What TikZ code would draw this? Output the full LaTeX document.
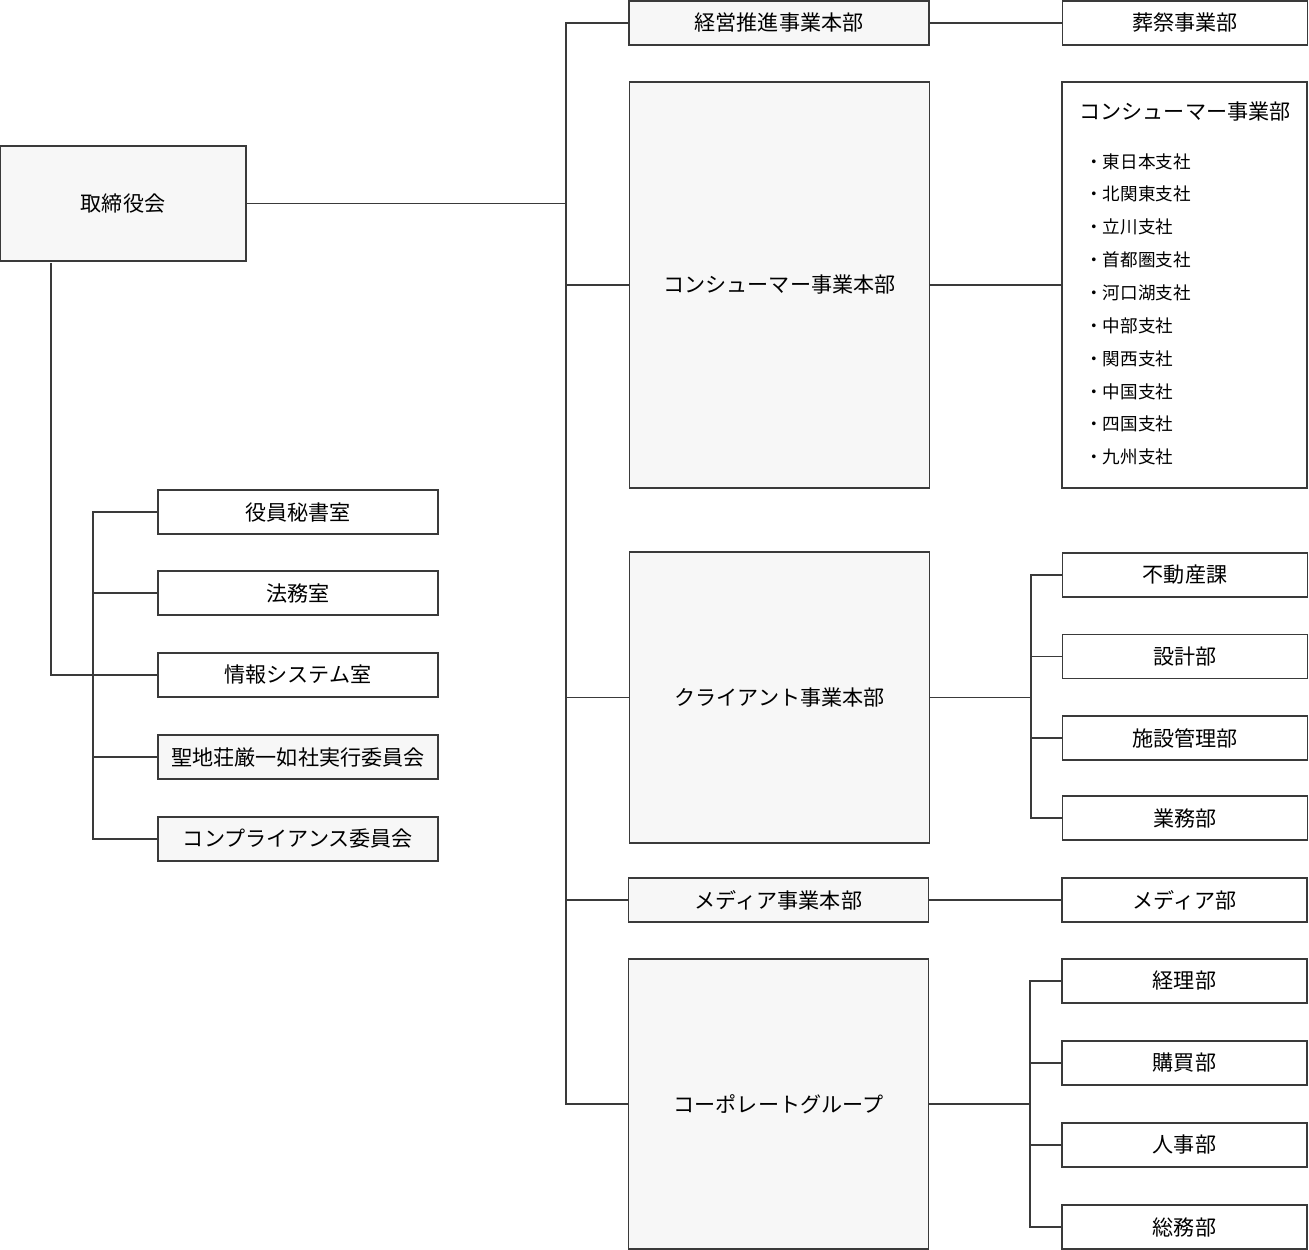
\documentclass[tikz,border=0pt]{standalone}
\usepackage{fontspec}
\newfontfamily\jp{Noto Sans CJK JP}
\usetikzlibrary{positioning}
\definecolor{boxgray}{HTML}{F7F7F7}
\definecolor{linegray}{HTML}{3A3A3A}

\begin{document}
\begin{tikzpicture}[x=0.02cm, y=-0.02cm,
  unit/.style={draw=linegray, line width=.9pt, inner sep=0, font=\jp\fontsize{12}{14}\selectfont},
  hq/.style={unit, fill=boxgray, minimum width=6cm, minimum height=.88cm},
  bighq/.style={unit, fill=boxgray, minimum width=6cm},
  dept/.style={unit, fill=white, minimum width=4.9cm, minimum height=.88cm},
  office/.style={unit, fill=white, minimum width=5.6cm, minimum height=.88cm},
  link/.style={draw=linegray, line width=.9pt}]
\useasboundingbox (0,0) rectangle (1309,1250);
% board
\node[unit, fill=boxgray, minimum width=4.92cm, minimum height=2.3cm] (board) at (123,203.5) {取締役会};
% headquarters column
\node[hq] (keiei) at (779,23) {経営推進事業本部};
\node[bighq, minimum height=8.12cm] (conshq) at (779.5,285) {コンシューマー事業本部};
\node[bighq, minimum height=5.82cm] (client) at (779.5,697.5) {クライアント事業本部};
\node[hq] (mediahq) at (778.5,900) {メディア事業本部};
\node[bighq, minimum height=5.8cm] (corp) at (778.5,1104) {コーポレートグループ};
% departments
\node[dept] (sousai) at (1185,23) {葬祭事業部};
\node[dept, minimum height=8.12cm] (consdept) at (1184.5,285) {};
\node[font=\jp\fontsize{12}{14}\selectfont] (constitle) at (1185,112) {コンシューマー事業部};
\node[font=\jp\fontsize{10}{18.7}\selectfont, align=left, anchor=north west, inner sep=0] (branches) at (1085,153) {・東日本支社\\・北関東支社\\・立川支社\\・首都圏支社\\・河口湖支社\\・中部支社\\・関西支社\\・中国支社\\・四国支社\\・九州支社};
\node[dept] (fudo) at (1185,575) {不動産課};
\node[dept] (sekkei) at (1185,656.5) {設計部};
\node[dept] (shisetsu) at (1185,738) {施設管理部};
\node[dept] (gyomu) at (1185,818) {業務部};
\node[dept] (mediadept) at (1184.5,900) {メディア部};
\node[dept] (keiri) at (1184.5,981) {経理部};
\node[dept] (kobai) at (1184.5,1063) {購買部};
\node[dept] (jinji) at (1184.5,1145) {人事部};
\node[dept] (somu) at (1184.5,1227) {総務部};
% offices under the board
\node[office] (hisho) at (298,512) {役員秘書室};
\node[office] (homu) at (298,593) {法務室};
\node[office] (joho) at (298,675) {情報システム室};
\node[office, fill=boxgray] (seichi) at (298,757) {聖地荘厳一如社実行委員会};
\node[office, fill=boxgray] (comp) at (298,839) {コンプライアンス委員会};
% trunks
\coordinate (tk) at (566,0);
\coordinate (lk) at (93,0);
\coordinate (ck) at (1031,0);
\coordinate (pk) at (1030,0);
\coordinate (drop) at (51,263);
% board to headquarters
\draw[link] (board.east) -- (board.east -| tk);
\draw[link] (keiei.west) -- (keiei.west -| tk) -- (corp.west -| tk) -- (corp.west);
\draw[link] (conshq.west) -- (conshq.west -| tk);
\draw[link] (client.west) -- (client.west -| tk);
\draw[link] (mediahq.west) -- (mediahq.west -| tk);
% headquarters to departments
\draw[link] (keiei) edge (sousai);
\draw[link] (conshq) edge (consdept);
\draw[link] (mediahq) edge (mediadept);
\draw[link] (client.east) -- (client.east -| ck);
\draw[link] (fudo.west) -- (fudo.west -| ck) -- (gyomu.west -| ck) -- (gyomu.west);
\draw[link] (sekkei.west) -- (sekkei.west -| ck);
\draw[link] (shisetsu.west) -- (shisetsu.west -| ck);
\draw[link] (corp.east) -- (corp.east -| pk);
\draw[link] (keiri.west) -- (keiri.west -| pk) -- (somu.west -| pk) -- (somu.west);
\draw[link] (kobai.west) -- (kobai.west -| pk);
\draw[link] (jinji.west) -- (jinji.west -| pk);
% board to offices
\draw[link] (drop) |- (joho.west);
\draw[link] (hisho.west) -- (hisho.west -| lk) -- (comp.west -| lk) -- (comp.west);
\draw[link] (homu.west) -- (homu.west -| lk);
\draw[link] (seichi.west) -- (seichi.west -| lk);
\end{tikzpicture}
\end{document}
